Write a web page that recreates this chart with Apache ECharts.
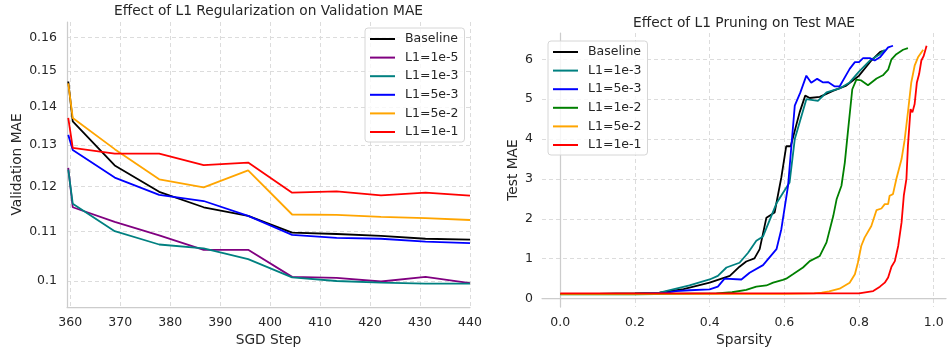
<!DOCTYPE html>
<html>
<head>
<meta charset="utf-8">
<script src="https://cdn.jsdelivr.net/npm/echarts@6/dist/echarts.min.js"></script>
<style>
  html, body { margin: 0; padding: 0; background: #fff; }
  #chart { width: 947px; height: 351px; }
</style>
</head>
<body>
<div id="chart"></div>
<script>
// left panel: validation MAE vs SGD step
const stepX = [359.6, 360.5, 368.9, 377.8, 386.7, 395.6, 404.4, 413.3, 422.2, 431.1, 440];
const valBaseline = [0.1470, 0.1361, 0.1250, 0.1188, 0.1153, 0.1134, 0.1098, 0.1095, 0.1091, 0.1085, 0.1083];
const val1e5 = [0.1244, 0.1153, 0.1121, 0.1092, 0.1062, 0.1062, 0.1008, 0.1006, 0.0999, 0.1008, 0.0996];
const val1e3 = [0.1240, 0.1161, 0.1101, 0.1073, 0.1065, 0.1043, 0.1007, 0.1000, 0.0997, 0.0995, 0.0995];
const val5e3 = [0.1326, 0.1288, 0.1221, 0.1181, 0.1167, 0.1134, 0.1093, 0.1087, 0.1085, 0.1079, 0.1076];
const val5e2 = [0.1465, 0.1370, 0.1290, 0.1217, 0.1198, 0.1238, 0.1137, 0.1136, 0.1132, 0.1129, 0.1125];
const val1e1 = [0.1370, 0.1293, 0.1279, 0.1279, 0.1251, 0.1257, 0.1186, 0.1189, 0.1180, 0.1186, 0.1179];
const stepTicks = [360, 370, 380, 390, 400, 410, 420, 430, 440];
const maeTicks = [0.1, 0.11, 0.12, 0.13, 0.14, 0.15, 0.16];

// right panel: test MAE vs sparsity, [sparsity, mae]
const pruneBaseline = [[0, 0.12], [0.1, 0.12], [0.2, 0.13], [0.266, 0.15], [0.33, 0.24], [0.40, 0.40], [0.454, 0.57],
  [0.48, 0.80], [0.498, 0.93], [0.52, 1.01], [0.534, 1.24], [0.552, 2.03], [0.574, 2.16], [0.592, 3.04], [0.605, 3.82],
  [0.617, 3.82], [0.641, 4.67], [0.656, 5.09], [0.668, 5.03], [0.695, 5.06], [0.73, 5.21], [0.766, 5.34], [0.80, 5.59],
  [0.833, 5.97], [0.856, 6.18], [0.864, 6.21]];
const prune1e3 = [[0, 0.12], [0.1, 0.12], [0.2, 0.13], [0.266, 0.15], [0.346, 0.33], [0.40, 0.48], [0.422, 0.57],
  [0.445, 0.78], [0.48, 0.90], [0.503, 1.15], [0.525, 1.45], [0.543, 1.56], [0.579, 2.39], [0.614, 2.91], [0.628, 4.0],
  [0.659, 5.0], [0.69, 4.96], [0.713, 5.17], [0.748, 5.27], [0.775, 5.42], [0.80, 5.69], [0.829, 5.97], [0.856, 6.13],
  [0.869, 6.24]];
const prune5e3 = [[0, 0.12], [0.1, 0.12], [0.2, 0.12], [0.28, 0.14], [0.31, 0.19], [0.346, 0.21], [0.40, 0.23],
  [0.422, 0.30], [0.44, 0.50], [0.485, 0.48], [0.507, 0.65], [0.543, 0.84], [0.579, 1.24], [0.592, 1.74], [0.61, 2.83],
  [0.628, 4.84], [0.643, 5.17], [0.659, 5.59], [0.672, 5.41], [0.688, 5.51], [0.704, 5.42], [0.717, 5.43], [0.735, 5.32],
  [0.748, 5.32], [0.775, 5.76], [0.789, 5.93], [0.80, 5.93], [0.811, 6.03], [0.829, 6.03], [0.842, 5.97], [0.856, 6.05],
  [0.878, 6.30], [0.891, 6.34]];
const prune1e2 = [[0, 0.11], [0.2, 0.11], [0.418, 0.13], [0.46, 0.16], [0.498, 0.22], [0.525, 0.30], [0.552, 0.33],
  [0.57, 0.40], [0.596, 0.47], [0.605, 0.50], [0.623, 0.61], [0.65, 0.78], [0.668, 0.94], [0.695, 1.07], [0.713, 1.41],
  [0.731, 2.07], [0.74, 2.49], [0.753, 2.83], [0.762, 3.41], [0.771, 4.25], [0.782, 5.25], [0.793, 5.49], [0.806, 5.47],
  [0.824, 5.35], [0.847, 5.52], [0.864, 5.60], [0.878, 5.74], [0.887, 6.0], [0.90, 6.13], [0.918, 6.24], [0.931, 6.28]];
const prune5e2 = [[0, 0.12], [0.3, 0.12], [0.6, 0.12], [0.68, 0.13], [0.70, 0.15], [0.72, 0.18], [0.748, 0.25],
  [0.775, 0.40], [0.789, 0.61], [0.797, 0.90], [0.806, 1.32], [0.815, 1.53], [0.833, 1.82], [0.847, 2.22], [0.86, 2.26],
  [0.869, 2.37], [0.878, 2.37], [0.882, 2.58], [0.891, 2.62], [0.90, 3.0], [0.914, 3.50], [0.922, 3.96], [0.931, 4.67],
  [0.94, 5.42], [0.949, 5.84], [0.958, 6.05], [0.972, 6.24]];
const prune1e1 = [[0, 0.13], [0.4, 0.13], [0.8, 0.13], [0.838, 0.19], [0.856, 0.30], [0.869, 0.40], [0.878, 0.53],
  [0.887, 0.80], [0.896, 0.94], [0.905, 1.32], [0.914, 1.91], [0.92, 2.58], [0.927, 3.0], [0.931, 3.83], [0.938, 4.75],
  [0.943, 4.67], [0.949, 4.88], [0.955, 5.42], [0.961, 5.63], [0.967, 5.97], [0.973, 6.08], [0.981, 6.34]];
const sparsityTicks = [0, 0.2, 0.4, 0.6, 0.8, 1.0];
const testTicks = [0, 1, 2, 3, 4, 5, 6];

const ink = '#262626';
const gridLine = { show: true, lineStyle: { color: '#dcdcdc', type: [4, 3], width: 1 } };
const spine = { show: true, lineStyle: { color: '#cccccc', width: 1.25 } };
const tickFont = { color: ink, fontSize: 12.5, fontFamily: 'DejaVu Sans' };
const nameFont = { color: ink, fontSize: 13.75, fontFamily: 'DejaVu Sans' };

function lineSeries(name, data, color, xi) {
  return {
    name: name, type: 'line', data: data, xAxisIndex: xi, yAxisIndex: xi,
    symbol: 'none', showSymbol: false, clip: true,
    lineStyle: { color: color, width: 1.8 }, itemStyle: { color: color }
  };
}
const pairs = ys => ys.map((y, i) => [stepX[i], y]);

// legend keys are plain line segments, like matplotlib
const legendBase = {
  orient: 'vertical', icon: 'rect', itemWidth: 25, itemHeight: 2, itemGap: 4.6,
  backgroundColor: 'rgba(255,255,255,0.8)', borderColor: '#d6d6d6', borderWidth: 1, borderRadius: 3,
  padding: [4, 6, 3, 5],
  textStyle: { color: ink, fontSize: 12.5, lineHeight: 14, fontFamily: 'DejaVu Sans', padding: [0, 0, 0, 5] }
};

const chart = echarts.init(document.getElementById('chart'), null, { renderer: 'canvas' });
chart.setOption({
  animation: false,
  backgroundColor: '#ffffff',
  title: [
    { text: 'Effect of L1 Regularization on Validation MAE', left: 114, top: 4, padding: 0,
      textStyle: { color: ink, fontSize: 13.75, fontWeight: 'normal', fontFamily: 'DejaVu Sans' } },
    { text: 'Effect of L1 Pruning on Test MAE', left: 633, top: 16.5, padding: 0,
      textStyle: { color: ink, fontSize: 13.75, fontWeight: 'normal', fontFamily: 'DejaVu Sans' } }
  ],
  grid: [
    { left: 67, right: 477, top: 22, bottom: 44, outerBoundsMode: 'none' },
    { left: 542, right: 1, top: 33, bottom: 44, outerBoundsMode: 'none' }
  ],
  legend: [
    Object.assign({}, legendBase, { left: 365, top: 28,
      data: ['Baseline', 'L1=1e-5', 'L1=1e-3', 'L1=5e-3', 'L1=5e-2', 'L1=1e-1'].map(n => ({ name: n })) }),
    Object.assign({}, legendBase, { left: 548, top: 41,
      data: ['Baseline ', 'L1=1e-3 ', 'L1=5e-3 ', 'L1=1e-2 ', 'L1=5e-2 ', 'L1=1e-1 '].map(n => ({ name: n })),
      formatter: n => n.trim() })
  ],
  xAxis: [
    { type: 'value', gridIndex: 0, min: 359.35, max: 440,
      name: 'SGD Step', nameLocation: 'middle', nameGap: 26, nameTextStyle: nameFont,
      axisLine: spine, axisTick: { show: false, customValues: stepTicks },
      axisLabel: Object.assign({ margin: 9, customValues: stepTicks }, tickFont), splitLine: gridLine },
    { type: 'value', gridIndex: 1, min: -0.049, max: 1.033,
      name: 'Sparsity', nameLocation: 'middle', nameGap: 26, nameTextStyle: nameFont,
      axisLine: spine, axisTick: { show: false, customValues: sparsityTicks },
      axisLabel: Object.assign({ margin: 9, customValues: sparsityTicks, formatter: v => v.toFixed(1) }, tickFont),
      splitLine: gridLine }
  ],
  yAxis: [
    { type: 'log', logBase: 10, gridIndex: 0, min: 0.0951, max: 0.1649,
      name: 'Validation MAE', nameLocation: 'middle', nameGap: 43, nameTextStyle: nameFont,
      axisLine: spine, axisTick: { show: false, customValues: maeTicks },
      axisLabel: Object.assign({ margin: 10, customValues: maeTicks, formatter: v => String(+v.toFixed(2)) }, tickFont),
      splitLine: gridLine },
    { type: 'value', gridIndex: 1, min: -0.21, max: 6.66,
      name: 'Test MAE', nameLocation: 'middle', nameGap: 22, nameTextStyle: nameFont,
      axisLine: spine, axisTick: { show: false, customValues: testTicks },
      axisLabel: Object.assign({ margin: 9, customValues: testTicks }, tickFont), splitLine: gridLine }
  ],
  series: [
    lineSeries('Baseline', pairs(valBaseline), '#000000', 0),
    lineSeries('L1=1e-5', pairs(val1e5), '#800080', 0),
    lineSeries('L1=1e-3', pairs(val1e3), '#008080', 0),
    lineSeries('L1=5e-3', pairs(val5e3), '#0000ff', 0),
    lineSeries('L1=5e-2', pairs(val5e2), '#ffa500', 0),
    lineSeries('L1=1e-1', pairs(val1e1), '#ff0000', 0),
    lineSeries('Baseline ', pruneBaseline, '#000000', 1),
    lineSeries('L1=1e-3 ', prune1e3, '#008080', 1),
    lineSeries('L1=5e-3 ', prune5e3, '#0000ff', 1),
    lineSeries('L1=1e-2 ', prune1e2, '#008000', 1),
    lineSeries('L1=5e-2 ', prune5e2, '#ffa500', 1),
    lineSeries('L1=1e-1 ', prune1e1, '#ff0000', 1)
  ]
});
</script>
</body>
</html>
